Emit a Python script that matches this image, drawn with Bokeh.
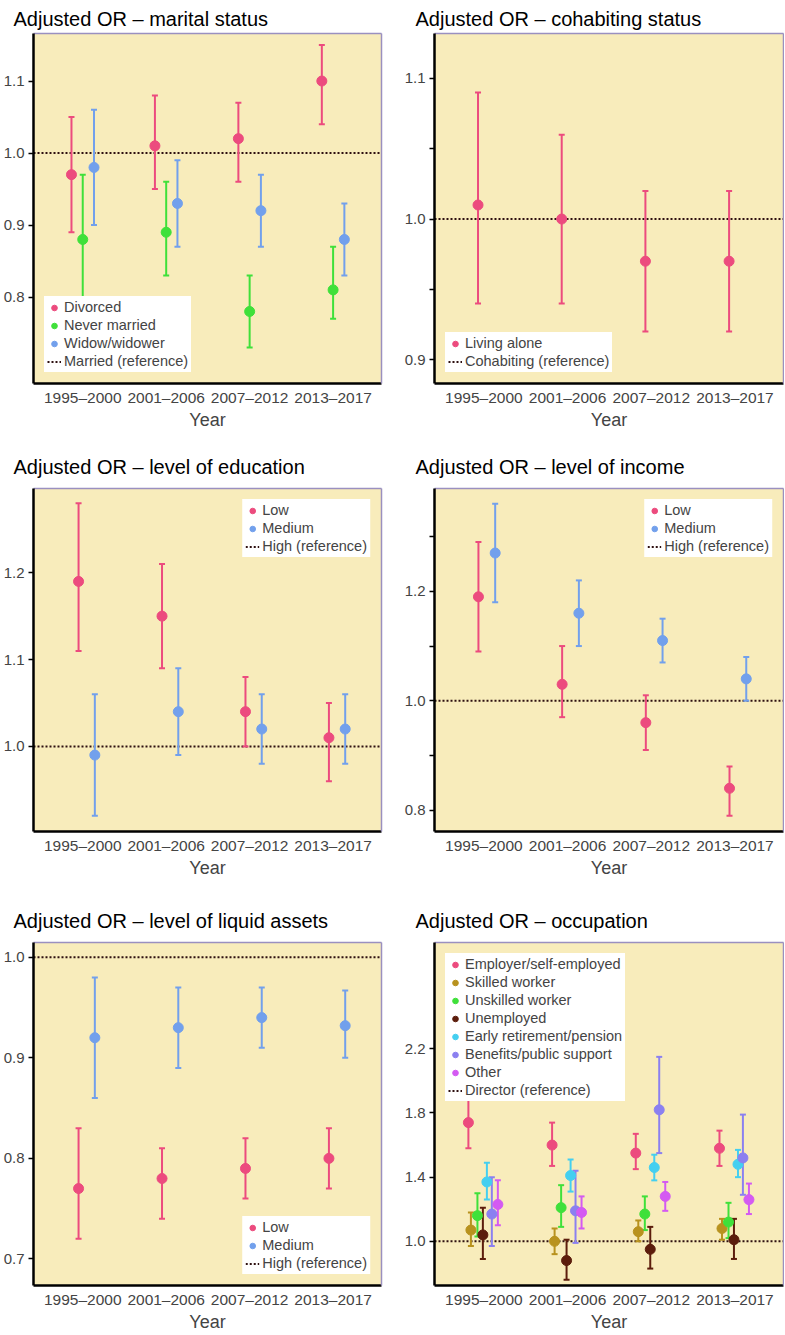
from bokeh.plotting import figure
from bokeh.models import (ColumnDataSource, Whisker, TeeHead, Span, Legend, LegendItem,
                          FixedTicker, Range1d, NumeralTickFormatter, LinearAxis)
from bokeh.layouts import column, row
from bokeh.embed import file_html
from bokeh.resources import INLINE

# ---------------- data ----------------
periods = ["1995–2000", "2001–2006", "2007–2012", "2013–2017"]
REF_OR = 1.0  # odds ratio of the reference category

# marital status
divorced_or = [0.97, 1.01, 1.02, 1.10]
divorced_lo = [0.89, 0.95, 0.96, 1.04]
divorced_hi = [1.05, 1.08, 1.07, 1.15]
never_married_or = [0.88, 0.89, 0.78, 0.81]
never_married_lo = [0.80, 0.83, 0.73, 0.77]
never_married_hi = [0.97, 0.96, 0.83, 0.87]
widow_or = [0.98, 0.93, 0.92, 0.88]
widow_lo = [0.90, 0.87, 0.87, 0.83]
widow_hi = [1.06, 0.99, 0.97, 0.93]

# cohabiting status
alone_or = [1.01, 1.00, 0.97, 0.97]
alone_lo = [0.94, 0.94, 0.92, 0.92]
alone_hi = [1.09, 1.06, 1.02, 1.02]

# education
edu_low_or = [1.19, 1.15, 1.04, 1.01]
edu_low_lo = [1.11, 1.09, 1.00, 0.96]
edu_low_hi = [1.28, 1.21, 1.08, 1.05]
edu_med_or = [0.99, 1.04, 1.02, 1.02]
edu_med_lo = [0.92, 0.99, 0.98, 0.98]
edu_med_hi = [1.06, 1.09, 1.06, 1.06]

# income
inc_low_or = [1.19, 1.03, 0.96, 0.84]
inc_low_lo = [1.09, 0.97, 0.91, 0.79]
inc_low_hi = [1.29, 1.10, 1.01, 0.88]
inc_med_or = [1.27, 1.16, 1.11, 1.04]
inc_med_lo = [1.18, 1.10, 1.07, 1.00]
inc_med_hi = [1.36, 1.22, 1.15, 1.08]

# liquid assets
ast_low_or = [0.77, 0.78, 0.79, 0.80]
ast_low_lo = [0.72, 0.74, 0.76, 0.77]
ast_low_hi = [0.83, 0.81, 0.82, 0.83]
ast_med_or = [0.92, 0.93, 0.94, 0.932]
ast_med_lo = [0.86, 0.89, 0.91, 0.90]
ast_med_hi = [0.98, 0.97, 0.97, 0.967]

# occupation
emp_or = [1.74, 1.60, 1.55, 1.58]
emp_lo = [1.58, 1.47, 1.45, 1.47]
emp_hi = [1.91, 1.74, 1.67, 1.69]
skilled_or = [1.07, 1.00, 1.06, 1.08]
skilled_lo = [0.97, 0.92, 1.00, 1.01]
skilled_hi = [1.18, 1.08, 1.13, 1.14]
unskilled_or = [1.16, 1.21, 1.17, 1.12]
unskilled_lo = [1.03, 1.09, 1.07, 1.02]
unskilled_hi = [1.30, 1.35, 1.28, 1.24]
unemp_or = [1.04, 0.88, 0.95, 1.01]
unemp_lo = [0.89, 0.76, 0.83, 0.89]
unemp_hi = [1.21, 1.01, 1.09, 1.14]
early_or = [1.37, 1.41, 1.46, 1.48]
early_lo = [1.26, 1.31, 1.38, 1.40]
early_hi = [1.49, 1.51, 1.54, 1.57]
benefit_or = [1.17, 1.19, 1.82, 1.52]
benefit_lo = [0.97, 0.99, 1.55, 1.29]
benefit_hi = [1.40, 1.44, 2.15, 1.79]
other_or = [1.23, 1.18, 1.28, 1.26]
other_lo = [1.10, 1.08, 1.19, 1.17]
other_hi = [1.38, 1.28, 1.37, 1.36]

# ---------------- style ----------------
FONT = "Liberation Sans"
BG = "#f8ecbb"
BORDER = "#9a90c0"
REF = "#2e1010"
PINK = "#ec4b7e"
GREEN = "#3fe03a"
BLUE = "#72a0ec"
GOLD = "#b8921e"
BROWN = "#5c1d0c"
CYAN = "#44cff0"
LAV = "#8b80f0"
MAG = "#d45af2"


def border_axis(p, side):
    ax = LinearAxis(ticker=FixedTicker(ticks=[]), axis_line_color=BORDER,
                    axis_line_width=1.5, major_tick_out=0, major_tick_in=0,
                    minor_tick_out=0, minor_tick_in=0, major_label_standoff=0,
                    major_label_text_font_size="0px")
    p.add_layout(ax, side)


def panel(title, series, ref_label, yrange, yticks, yminor, legend_loc,
          left_col, height, top, frame_h, title_standoff):
    if left_col:
        width, mbl, mbr, toff = 400, 32, 19, -20
    else:
        width, mbl, mbr, toff = 384, 34, 1, -19
    p = figure(width=width, height=height, x_range=Range1d(-0.59, 3.58),
               y_range=Range1d(*yrange), output_backend="svg", toolbar_location=None,
               min_border_left=mbl, min_border_right=mbr, min_border_top=top,
               min_border_bottom=height - top - frame_h)
    p.background_fill_color = BG
    p.border_fill_color = "white"
    p.outline_line_color = None
    p.xgrid.visible = False
    p.ygrid.visible = False
    border_axis(p, "above")
    border_axis(p, "right")

    p.title.text = title
    p.title.text_font = FONT
    p.title.text_font_size = "20px"
    p.title.text_font_style = "normal"
    p.title.text_color = "black"
    p.title.offset = toff
    p.title.standoff = title_standoff

    span = Span(location=REF_OR, dimension="width", line_color=REF, line_dash="2 2",
                line_width=2, level="underlay")
    p.add_layout(span)

    items = []
    for name, offset, color, ors, los, his in series:
        xs = [i + offset for i in range(len(periods))]
        src = ColumnDataSource(dict(x=xs, y=ors, lo=los, hi=his))
        w = Whisker(base="x", lower="lo", upper="hi", source=src, line_color=color,
                    line_width=2,
                    upper_head=TeeHead(size=6, line_color=color, line_width=2),
                    lower_head=TeeHead(size=6, line_color=color, line_width=2))
        p.add_layout(w)
        r = p.scatter("x", "y", source=src, size=10, fill_color=color, line_color=color)
        items.append(LegendItem(label=name, renderers=[r]))
    # legend entry for the reference category (a single point draws no line)
    lr = p.line(x=[0], y=[REF_OR], line_color=REF, line_dash="2 2", line_width=2)
    items.append(LegendItem(label=ref_label, renderers=[lr]))

    leg = Legend(items=items, location=legend_loc, background_fill_color="white",
                 background_fill_alpha=1.0, border_line_alpha=0.0,
                 label_text_font=FONT, label_text_font_size="14.5px",
                 glyph_height=15, glyph_width=14, label_height=15, spacing=2,
                 padding=3, margin=11, label_standoff=3)
    p.add_layout(leg)

    xa = p.below[0]
    xa.ticker = FixedTicker(ticks=list(range(len(periods))))
    xa.major_label_overrides = {i: s for i, s in enumerate(periods)}
    xa.axis_line_width = 2.5
    xa.axis_line_color = "black"
    xa.major_tick_out = 0
    xa.major_tick_in = 0
    xa.minor_tick_out = 0
    xa.minor_tick_in = 0
    xa.major_label_text_font = FONT
    xa.major_label_text_font_size = "15.5px"
    xa.major_label_standoff = 5
    xa.axis_label = "Year"
    xa.axis_label_text_font = FONT
    xa.axis_label_text_font_size = "18px"
    xa.axis_label_text_font_style = "normal"
    xa.axis_label_standoff = 1

    ya = p.left[0]
    ya.ticker = FixedTicker(ticks=yticks, minor_ticks=yminor)
    ya.formatter = NumeralTickFormatter(format="0.0")
    ya.axis_line_width = 2.5
    ya.axis_line_color = "black"
    ya.major_tick_out = 5
    ya.major_tick_in = 0
    ya.minor_tick_out = 5
    ya.minor_tick_in = 0
    ya.major_tick_line_width = 1.5
    ya.minor_tick_line_width = 1.5
    ya.major_label_text_font = FONT
    ya.major_label_text_font_size = "15px"
    ya.major_label_standoff = 4
    return p


p1 = panel("Adjusted OR – marital status",
           [("Divorced", -0.135, PINK, divorced_or, divorced_lo, divorced_hi),
            ("Never married", 0.0, GREEN, never_married_or, never_married_lo, never_married_hi),
            ("Widow/widower", 0.135, BLUE, widow_or, widow_lo, widow_hi)],
           "Married (reference)", (0.68, 1.166), [0.8, 0.9, 1.0, 1.1], [],
           "bottom_left", True, 440, 33, 350, 8)
p2 = panel("Adjusted OR – cohabiting status",
           [("Living alone", -0.07, PINK, alone_or, alone_lo, alone_hi)],
           "Cohabiting (reference)", (0.883, 1.132), [0.9, 1.0, 1.1], [0.95, 1.05],
           "bottom_left", False, 440, 33, 350, 8)
p3 = panel("Adjusted OR – level of education",
           [("Low", -0.05, PINK, edu_low_or, edu_low_lo, edu_low_hi),
            ("Medium", 0.145, BLUE, edu_med_or, edu_med_lo, edu_med_hi)],
           "High (reference)", (0.902, 1.297), [1.0, 1.1, 1.2], [],
           "top_right", True, 440, 48, 350, 22)
p4 = panel("Adjusted OR – level of income",
           [("Low", -0.065, PINK, inc_low_or, inc_low_lo, inc_low_hi),
            ("Medium", 0.135, BLUE, inc_med_or, inc_med_lo, inc_med_hi)],
           "High (reference)", (0.761, 1.388), [0.8, 1.0, 1.2], [0.9, 1.1, 1.3],
           "top_right", False, 440, 48, 350, 22)
p5 = panel("Adjusted OR – level of liquid assets",
           [("Low", -0.05, PINK, ast_low_or, ast_low_lo, ast_low_hi),
            ("Medium", 0.145, BLUE, ast_med_or, ast_med_lo, ast_med_hi)],
           "High (reference)", (0.6736, 1.0147), [0.7, 0.8, 0.9, 1.0], [],
           "bottom_right", True, 454, 62, 348, 22)
p6 = panel("Adjusted OR – occupation",
           [("Employer/self-employed", -0.185, PINK, emp_or, emp_lo, emp_hi),
            ("Skilled worker", -0.155, GOLD, skilled_or, skilled_lo, skilled_hi),
            ("Unskilled worker", -0.077, GREEN, unskilled_or, unskilled_lo, unskilled_hi),
            ("Unemployed", -0.012, BROWN, unemp_or, unemp_lo, unemp_hi),
            ("Early retirement/pension", 0.036, CYAN, early_or, early_lo, early_hi),
            ("Benefits/public support", 0.095, LAV, benefit_or, benefit_lo, benefit_hi),
            ("Other", 0.167, MAG, other_or, other_lo, other_hi)],
           "Director (reference)", (0.7245, 2.863), [1.0, 1.4, 1.8, 2.2], [],
           "top_left", False, 454, 62, 348, 22)

layout = column(row(p1, p2), row(p3, p4), row(p5, p6))
open("out.html", "w").write(file_html(layout, INLINE))
